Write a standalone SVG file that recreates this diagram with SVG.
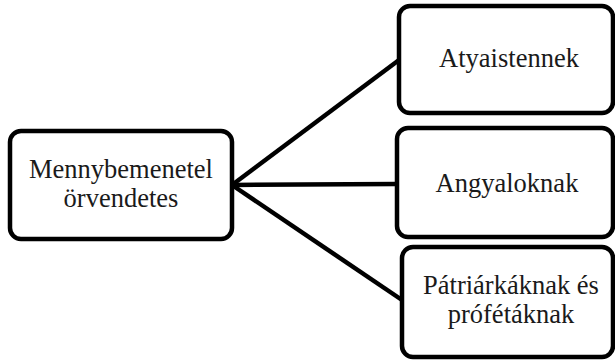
<svg xmlns="http://www.w3.org/2000/svg" width="615" height="360" viewBox="0 0 615 360">
<style>
.box{fill:#fff;stroke:#000;stroke-width:4.5}
.lbl{font-family:"Liberation Serif","Times New Roman",serif;font-size:26.5px;fill:#1a1a1a;text-anchor:middle}
.edge{stroke:#000;stroke-width:4.5;fill:none}
</style>
<rect width="615" height="360" fill="#fff"/>
<g id="connectors">
<line class="edge" x1="232" y1="185" x2="399" y2="60"/>
<line class="edge" x1="232" y1="185" x2="397" y2="184"/>
<line class="edge" x1="232" y1="185" x2="402" y2="300"/>
</g>
<g id="node-root">
<rect class="box" x="10" y="131" width="222" height="108" rx="11"/>
<text class="lbl" x="121" y="178">Mennybemenetel</text>
<text class="lbl" x="121" y="207">örvendetes</text>
</g>
<g id="node-atyaistennek">
<rect class="box" x="399" y="6" width="214" height="107" rx="11"/>
<text class="lbl" x="509" y="67">Atyaistennek</text>
</g>
<g id="node-angyaloknak">
<rect class="box" x="397" y="128" width="216" height="109" rx="11"/>
<text class="lbl" x="507" y="192">Angyaloknak</text>
</g>
<g id="node-patriarkaknak">
<rect class="box" x="402" y="247" width="211" height="110" rx="11"/>
<text class="lbl" x="511" y="294">Pátriárkáknak és</text>
<text class="lbl" x="511" y="323">prófétáknak</text>
</g>
</svg>
